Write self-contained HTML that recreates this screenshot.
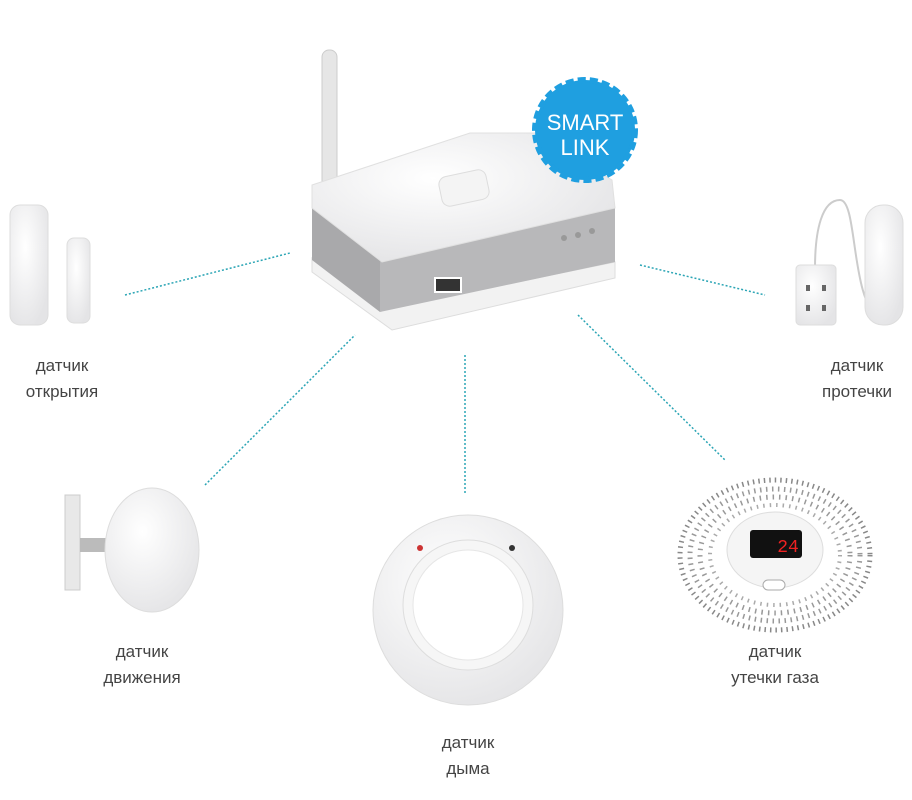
<!DOCTYPE html>
<html><head><meta charset="utf-8"><style>
html,body{margin:0;padding:0;background:#fff}
.l{position:absolute;font-family:"Liberation Sans",sans-serif;font-size:17px;color:#444;text-align:center;line-height:26px;width:200px}
</style></head><body>
<div style="position:relative;width:912px;height:800px;overflow:hidden">
<svg width="912" height="800" style="position:absolute;left:0;top:0">
<defs>
<radialGradient id="w" cx="40%" cy="35%" r="70%"><stop offset="0" stop-color="#ffffff"/><stop offset="1" stop-color="#e4e4e6"/></radialGradient>
</defs>
<g stroke="#2ba5b5" stroke-width="1.5" stroke-dasharray="2 2" fill="none">
<line x1="125" y1="295" x2="290" y2="253"/>
<line x1="205" y1="485" x2="355" y2="335"/>
<line x1="465" y1="355" x2="465" y2="495"/>
<line x1="578" y1="315" x2="725" y2="460"/>
<line x1="640" y1="265" x2="765" y2="295"/>
</g>
<rect x="322" y="50" width="15" height="160" rx="7" fill="#e6e6e6" stroke="#ccc"/>
<polygon points="312,258 380,310 615,262 615,278 392,330 312,272" fill="#f2f2f2" stroke="#ddd"/>
<polygon points="312,205 380,258 380,312 312,260" fill="#a9a9ab"/>
<polygon points="380,258 615,205 615,262 380,312" fill="#b8b8ba"/>
<polygon points="312,185 470,133 535,133 612,180 615,208 382,262 312,208" fill="url(#w)" stroke="#e0e0e0"/>
<rect x="435" y="278" width="26" height="14" fill="#333" stroke="#fff" stroke-width="2"/>
<rect x="440" y="173" width="48" height="30" rx="8" fill="#f4f4f4" stroke="#ddd" transform="rotate(-12 464 188)"/>
<circle cx="564" cy="238" r="3" fill="#999"/><circle cx="578" cy="235" r="3" fill="#999"/><circle cx="592" cy="231" r="3" fill="#999"/>
<circle cx="585" cy="130" r="50" fill="#1f9fe0" stroke="#1f9fe0" stroke-width="6" stroke-dasharray="8 4"/>
<text x="585" y="130" text-anchor="middle" font-family="Liberation Sans" font-size="22" fill="#fff">SMART</text>
<text x="585" y="155" text-anchor="middle" font-family="Liberation Sans" font-size="22" fill="#fff">LINK</text>
<rect x="10" y="205" width="38" height="120" rx="10" fill="url(#w)" stroke="#ddd"/>
<rect x="67" y="238" width="23" height="85" rx="7" fill="url(#w)" stroke="#ddd"/>
<path d="M815 268 C815 230 822 200 840 200 C858 200 850 300 880 320" fill="none" stroke="#ccc" stroke-width="2"/>
<rect x="865" y="205" width="38" height="120" rx="18" fill="url(#w)" stroke="#ddd"/>
<rect x="796" y="265" width="40" height="60" rx="4" fill="url(#w)" stroke="#ddd"/>
<rect x="806" y="285" width="4" height="6" fill="#666"/><rect x="822" y="285" width="4" height="6" fill="#666"/>
<rect x="806" y="305" width="4" height="6" fill="#666"/><rect x="822" y="305" width="4" height="6" fill="#666"/>
<rect x="65" y="495" width="15" height="95" fill="#e8e8e8" stroke="#ccc"/>
<rect x="80" y="538" width="30" height="14" fill="#bbb"/>
<ellipse cx="152" cy="550" rx="47" ry="62" fill="url(#w)" stroke="#ddd"/>
<circle cx="468" cy="610" r="95" fill="url(#w)" stroke="#ddd"/>
<circle cx="468" cy="605" r="65" fill="#f6f6f6" stroke="#ddd"/>
<circle cx="468" cy="605" r="55" fill="#fff" stroke="#e6e6e6"/>
<circle cx="420" cy="548" r="3" fill="#c33"/><circle cx="512" cy="548" r="3" fill="#333"/>
<ellipse cx="775" cy="555" rx="95" ry="75" fill="#fff" stroke="#888" stroke-width="5" stroke-dasharray="1.5 4"/>
<ellipse cx="775" cy="555" rx="85" ry="66" fill="none" stroke="#999" stroke-width="5" stroke-dasharray="1.5 4.5"/>
<ellipse cx="775" cy="555" rx="75" ry="58" fill="none" stroke="#999" stroke-width="5" stroke-dasharray="1.5 5"/>
<ellipse cx="775" cy="555" rx="65" ry="50" fill="none" stroke="#aaa" stroke-width="4" stroke-dasharray="1.5 5"/>
<ellipse cx="775" cy="550" rx="48" ry="38" fill="#f5f5f5" stroke="#ddd"/>
<rect x="750" y="530" width="52" height="28" rx="3" fill="#111"/>
<text x="788" y="552" text-anchor="middle" font-family="Liberation Mono" font-size="18" fill="#e22">24</text>
<rect x="763" y="580" width="22" height="10" rx="5" fill="#fff" stroke="#aaa"/>
</svg>
<div class="l" style="left:-38px;top:353px">датчик<br>открытия</div>
<div class="l" style="left:757px;top:353px">датчик<br>протечки</div>
<div class="l" style="left:42px;top:639px">датчик<br>движения</div>
<div class="l" style="left:675px;top:639px">датчик<br>утечки газа</div>
<div class="l" style="left:368px;top:730px">датчик<br>дыма</div>
</div>
</body></html>
